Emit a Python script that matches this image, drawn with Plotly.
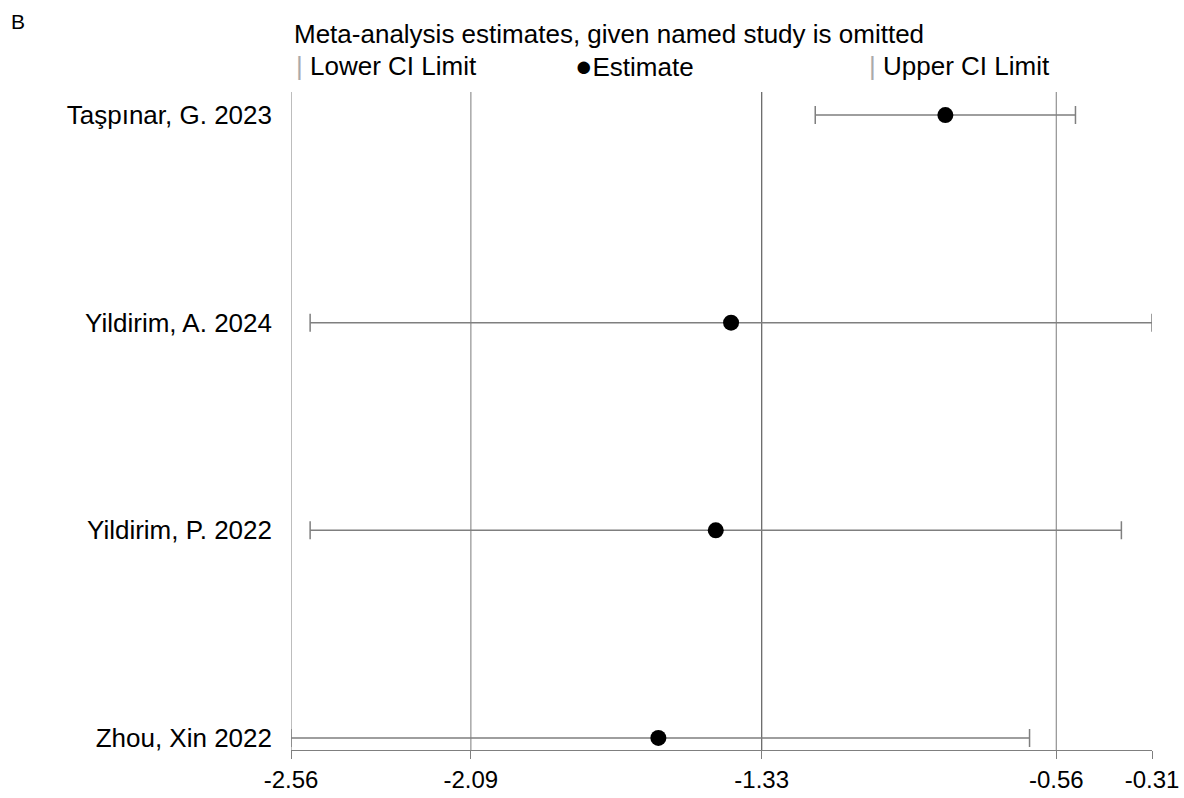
import plotly.graph_objects as go

# ---- data ----
studies = ["Taşpınar, G. 2023", "Yildirim, A. 2024", "Yildirim, P. 2022", "Zhou, Xin 2022"]
estimates = [-0.85, -1.41, -1.45, -1.60]
lower_ci = [-1.19, -2.51, -2.51, -2.56]
upper_ci = [-0.51, -0.31, -0.39, -0.63]
tick_vals = [-2.56, -2.09, -1.33, -0.56, -0.31]
tick_text = ["-2.56", "-2.09", "-1.33", "-0.56", "-0.31"]
grid_vals = [-2.56, -2.09, -0.56]
center_val = -1.33

ypos = list(range(len(studies) - 1, -1, -1))  # top to bottom

font_family = "Liberation Sans, Arial, sans-serif"
fs = 26

fig = go.Figure()

fig.add_trace(go.Scatter(
    x=estimates,
    y=ypos,
    mode="markers",
    marker=dict(color="black", size=16, symbol="circle"),
    error_x=dict(
        type="data",
        symmetric=False,
        array=[u - e for u, e in zip(upper_ci, estimates)],
        arrayminus=[e - l for e, l in zip(estimates, lower_ci)],
        color="#7f7f7f",
        thickness=1.5,
        width=9,
    ),
    showlegend=False,
    cliponaxis=False,
))

shapes = []
for g in grid_vals:
    shapes.append(dict(type="line", xref="x", yref="paper", x0=g, x1=g, y0=0, y1=1,
                       line=dict(color="#9a9a9a", width=1.3), layer="below"))
shapes.append(dict(type="line", xref="x", yref="paper", x0=center_val, x1=center_val, y0=0, y1=1,
                   line=dict(color="#6a6a6a", width=1.3), layer="below"))

# plot area: top 92 px, bottom 750 px (height 658)
def py(pix):
    return (750 - pix) / 658.0

annotations = [
    dict(text="B", xref="paper", yref="paper", x=-0.327, y=py(22), xanchor="left", yanchor="middle",
         showarrow=False, font=dict(size=21, color="black", family=font_family)),
    dict(text="Meta-analysis estimates, given named study is omitted", xref="paper", yref="paper",
         x=0.001, y=py(34), xanchor="left", yanchor="middle", showarrow=False,
         font=dict(size=fs, color="black", family=font_family)),
    dict(text="<span style='color:#aaaaaa'>|</span> Lower CI Limit", xref="paper", yref="paper",
         x=0.004, y=py(66), xanchor="left", yanchor="middle", showarrow=False,
         font=dict(size=fs, color="black", family=font_family)),
    dict(text="<span style='font-size:29px'>●</span>Estimate", xref="paper", yref="paper",
         x=0.327, y=py(66), xanchor="left", yanchor="middle", showarrow=False,
         font=dict(size=fs, color="black", family=font_family)),
    dict(text="<span style='color:#aaaaaa'>|</span> Upper CI Limit", xref="paper", yref="paper",
         x=0.669, y=py(66), xanchor="left", yanchor="middle", showarrow=False,
         font=dict(size=fs, color="black", family=font_family)),
]

fig.update_layout(
    width=1184, height=798, autosize=False,
    paper_bgcolor="white", plot_bgcolor="white",
    margin=dict(l=291, r=32, t=92, b=48, pad=0, autoexpand=False),
    shapes=shapes,
    annotations=annotations,
    font=dict(family=font_family, color="black", size=fs),
    xaxis=dict(
        range=[-2.56, -0.31], automargin=False,
        tickvals=tick_vals, ticktext=tick_text,
        showgrid=False, zeroline=False,
        showline=True, linecolor="#7f7f7f", linewidth=1.3,
        ticks="outside", ticklen=8, tickcolor="#7f7f7f", tickwidth=1.3,
        tickfont=dict(size=24, color="black", family=font_family),
    ),
    yaxis=dict(
        range=[-0.058, 3.111], automargin=False,
        tickvals=ypos, ticktext=studies,
        showgrid=False, zeroline=False, showline=False,
        ticks="", ticklabelstandoff=18,
        tickfont=dict(size=fs, color="black", family=font_family),
    ),
)

fig.write_html("out.html", config={"displayModeBar": False},
               post_script="document.body.style.margin='0px';document.body.style.overflow='hidden';")
